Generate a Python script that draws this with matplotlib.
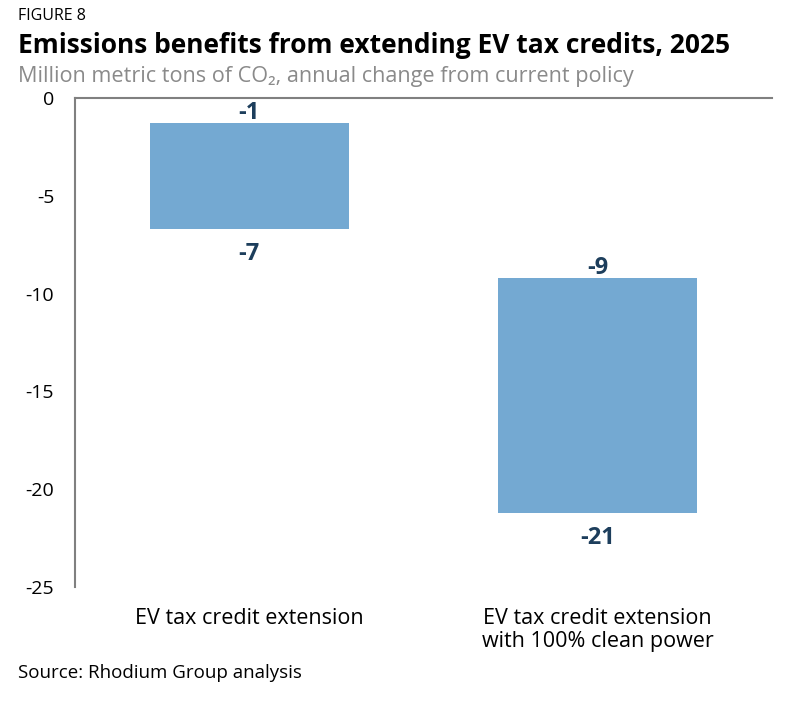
import matplotlib
matplotlib.use("Agg")
from matplotlib import pyplot as plt

plt.rcParams['font.family'] = ['Open Sans', 'DejaVu Sans']

categories = ['EV tax credit extension', 'EV tax credit extension\nwith 100% clean power']
upper = [-1.3, -9.2]
lower = [-6.7, -21.2]
yticks = [0, -5, -10, -15, -20, -25]

bar_color = '#74a9d2'
label_color = '#1d3e5c'
axis_color = '#808080'

fig = plt.figure(figsize=(7.86, 7.06), dpi=100)
ax = fig.add_axes([0.0954, 0.1686, 0.8866, 0.6926])

x = list(range(len(categories)))
heights = [lo - up for up, lo in zip(upper, lower)]
ax.bar(x, heights, bottom=upper, width=0.57, color=bar_color)

for xi, up, lo in zip(x, upper, lower):
    ax.annotate(f"{up:.0f}", (xi, up), xytext=(0, 3), textcoords='offset points',
                ha='center', va='baseline', fontsize=17, fontweight='bold', color=label_color)
    ax.annotate(f"{lo:.0f}", (xi, lo), xytext=(0, -22.5), textcoords='offset points',
                ha='center', va='baseline', fontsize=17, fontweight='bold', color=label_color)

ax.set_xlim(-0.5, 1.5)
ax.set_ylim(-25, 0)
ax.set_yticks(yticks)
ax.set_yticklabels([str(t) for t in yticks])
ax.tick_params(axis='y', length=0, pad=15, labelsize=14)
ax.tick_params(axis='x', length=0, pad=15, labelsize=15.5)
ax.set_xticks(x)
ax.set_xticklabels(categories, linespacing=1.16)

for side in ['right', 'bottom']:
    ax.spines[side].set_visible(False)
for side in ['left', 'top']:
    ax.spines[side].set_color(axis_color)
    ax.spines[side].set_linewidth(1.5)

fig.text(0.023, 0.9717, 'FIGURE 8', fontsize=11.5, va='baseline', color='black')
fig.text(0.023, 0.925, 'Emissions benefits from extending EV tax credits, 2025',
         fontsize=19, fontweight='bold', va='baseline', color='black')
fig.text(0.023, 0.884, 'Million metric tons of CO\u2082, annual change from current policy',
         fontsize=15.6, va='baseline', color='#8a8a8a')
fig.text(0.023, 0.0397, 'Source: Rhodium Group analysis', fontsize=13.5, va='baseline', color='black')

fig.savefig('out.png', dpi=100)
